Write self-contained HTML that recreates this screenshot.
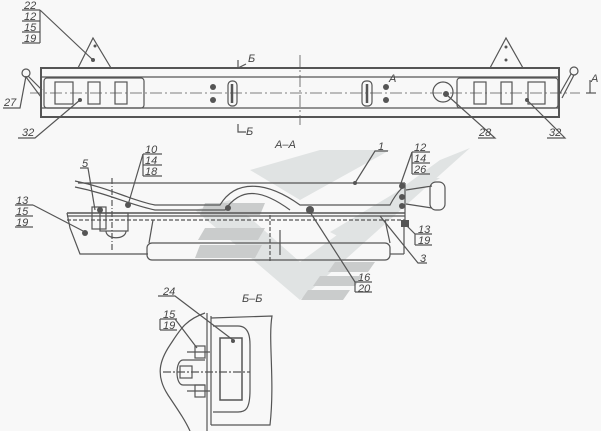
<!DOCTYPE html>
<html><head><meta charset="utf-8"><style>
html,body{margin:0;padding:0;background:#f8f8f8}
svg{display:block}
text{font-family:"Liberation Sans",sans-serif;font-style:italic;font-size:11px;fill:#444}
</style></head><body>
<svg width="601" height="431" viewBox="0 0 601 431" xmlns="http://www.w3.org/2000/svg">
<rect width="601" height="431" fill="#f8f8f8"/>
<g fill="#e0e3e3">
<polygon points="195,210 230,200 300,262 440,160 470,148 300,300"/>
<polygon points="250,170 320,150 390,150 300,200"/>
<polygon points="330,232 420,178 440,178 345,240"/>
</g>
<g fill="#cacccc">
<polygon points="205,203 265,203 260,215 200,215"/>
<polygon points="205,228 265,228 258,240 198,240"/>
<polygon points="200,245 262,245 255,258 195,258"/>
<polygon points="335,262 375,262 368,272 328,272"/>
<polygon points="320,276 362,276 355,286 313,286"/>
<polygon points="308,290 350,290 343,300 301,300"/>
</g>
<g stroke="#555" fill="none" stroke-width="1.2">
<rect x="41" y="68" width="518" height="49" stroke-width="2"/>
<line x1="41" y1="77" x2="559" y2="77"/>
<line x1="41" y1="108" x2="559" y2="108"/>
<line x1="30" y1="93" x2="580" y2="93" stroke-dasharray="12,3,2,3" stroke-width="0.8"/>
<line x1="300" y1="55" x2="300" y2="125" stroke-dasharray="12,3,2,3" stroke-width="0.8"/>
<rect x="44" y="78" width="100" height="30" rx="3"/>
<rect x="457" y="78" width="101" height="30" rx="3"/>
<rect x="55" y="82" width="18" height="22"/><rect x="88" y="82" width="12" height="22"/><rect x="115" y="82" width="12" height="22"/>
<rect x="474" y="82" width="12" height="22"/><rect x="501" y="82" width="11" height="22"/><rect x="528" y="82" width="17" height="22"/>
<rect x="228" y="81" width="9" height="25" rx="4"/><rect x="362" y="81" width="10" height="25" rx="4"/>
<line x1="232" y1="84" x2="232" y2="103" stroke-width="2.5"/><line x1="367" y1="84" x2="367" y2="103" stroke-width="2.5"/>
<circle cx="443" cy="92" r="10"/>
<polygon points="78,68 93,38 111,68"/><polygon points="490,68 506,38 523,68"/>
<circle cx="26" cy="73" r="4"/><line x1="28" y1="76" x2="42" y2="90"/><line x1="26" y1="77" x2="41" y2="97"/>
<circle cx="574" cy="71" r="4"/><line x1="571" y1="74" x2="559" y2="95"/><line x1="574" y1="75" x2="562" y2="98"/>
<polyline points="238,60 238,68 246,64"/><polyline points="238,124 238,132 246,132"/>
<line x1="586" y1="93" x2="596" y2="93"/><line x1="590" y1="80" x2="590" y2="93"/>
<line x1="22" y1="10" x2="40" y2="10"/><line x1="22" y1="21" x2="40" y2="21"/><line x1="22" y1="32" x2="40" y2="32"/><line x1="22" y1="43" x2="40" y2="43"/><line x1="40" y1="10" x2="40" y2="43"/>
<line x1="40" y1="10" x2="93" y2="60"/>
<polyline points="3,108 20,108 26,76"/>
<polyline points="18,138 35,138 80,100"/>
<polyline points="478,138 495,138 448,96"/>
<polyline points="547,138 565,138 527,100"/>
<line x1="78" y1="183" x2="405" y2="183"/>
<line x1="67" y1="213" x2="405" y2="213" stroke-width="1.6"/>
<line x1="67" y1="216" x2="405" y2="216"/>
<line x1="67" y1="220" x2="405" y2="220" stroke-dasharray="4,2"/>
<polyline points="67,213 70,228 80,254 148,254"/>
<line x1="405" y1="183" x2="405" y2="220"/>
<rect x="147" y="243" width="243" height="17" rx="5"/>
<line x1="153" y1="220" x2="149" y2="243"/><line x1="385" y1="220" x2="390" y2="243"/>
<line x1="390" y1="254" x2="404" y2="254"/><line x1="404" y1="220" x2="404" y2="254"/>
<path d="M75,181 C110,188 130,200 155,205 L220,205 C235,180 265,180 300,205 L390,205 C395,195 400,190 402,188"/>
<path d="M75,187 C110,194 130,205 155,210 L225,210 C240,188 260,188 290,210"/>
<path d="M406,190 L432,186 M406,204 L432,208"/>
<rect x="430" y="182" width="15" height="28" rx="6"/>
<rect x="92" y="207" width="14" height="22"/>
<rect x="100" y="213" width="28" height="18"/>
<path d="M106,231 C106,240 126,240 126,231"/>
<line x1="112" y1="178" x2="112" y2="250" stroke-dasharray="6,2,1,2"/>
<line x1="270" y1="215" x2="270" y2="262" stroke-dasharray="4,2"/>
<line x1="280" y1="230" x2="280" y2="255"/>
<polyline points="80,168 88,168 95,210"/>
<line x1="143" y1="154" x2="162" y2="154"/><line x1="143" y1="165" x2="162" y2="165"/><line x1="143" y1="176" x2="162" y2="176"/><line x1="143" y1="154" x2="143" y2="176"/>
<line x1="143" y1="154" x2="128" y2="205"/>
<line x1="15" y1="205" x2="33" y2="205"/><line x1="15" y1="216" x2="33" y2="216"/><line x1="15" y1="227" x2="33" y2="227"/>
<line x1="33" y1="205" x2="85" y2="232"/>
<polyline points="388,151 375,151 355,183"/>
<line x1="412" y1="152" x2="430" y2="152"/><line x1="412" y1="163" x2="430" y2="163"/><line x1="412" y1="174" x2="430" y2="174"/><line x1="412" y1="152" x2="412" y2="174"/>
<line x1="412" y1="152" x2="400" y2="186"/>
<line x1="415" y1="234" x2="432" y2="234"/><line x1="415" y1="245" x2="432" y2="245"/><line x1="415" y1="234" x2="415" y2="245"/>
<line x1="415" y1="234" x2="405" y2="224"/>
<polyline points="427,263 418,263 380,216"/>
<line x1="355" y1="282" x2="372" y2="282"/><line x1="355" y1="292" x2="372" y2="292"/><line x1="355" y1="282" x2="355" y2="292"/>
<line x1="355" y1="282" x2="310" y2="212"/>
<line x1="207" y1="313" x2="207" y2="431"/><line x1="211" y1="316" x2="211" y2="425"/>
<path d="M211,318 L272,316 C268,340 275,380 270,425 L211,425"/>
<path d="M213,326 L238,326 C250,326 250,340 250,345 L250,390 C250,410 245,412 238,412 L213,412"/>
<rect x="220" y="338" width="22" height="62" stroke-width="1.5"/>
<path d="M205,313 C185,320 180,330 170,345 C160,360 155,375 168,395 C178,410 185,420 190,431"/>
<line x1="163" y1="372" x2="250" y2="372" stroke-dasharray="8,2,2,2"/>
<path d="M205,360 L183,360 C175,360 175,385 183,385 L205,385"/>
<rect x="180" y="366" width="12" height="12"/>
<rect x="195" y="346" width="10" height="12"/><rect x="195" y="385" width="10" height="12"/>
<line x1="187" y1="352" x2="210" y2="352"/><line x1="187" y1="391" x2="210" y2="391"/>
<polyline points="158,296 175,296 233,340"/>
<line x1="160" y1="319" x2="177" y2="319"/><line x1="160" y1="330" x2="177" y2="330"/><line x1="160" y1="319" x2="160" y2="330"/>
<line x1="175" y1="319" x2="197" y2="348"/>
</g>
<g fill="#555">
<circle cx="93" cy="60" r="2"/><circle cx="95" cy="46" r="1.5"/><circle cx="506" cy="60" r="1.5"/><circle cx="506" cy="47" r="1.5"/>
<circle cx="80" cy="100" r="2"/><circle cx="527" cy="100" r="2"/><circle cx="446" cy="94" r="3"/>
<circle cx="213" cy="87" r="3"/><circle cx="213" cy="100" r="3"/><circle cx="386" cy="87" r="3"/><circle cx="386" cy="100" r="3"/>
<circle cx="355" cy="183" r="2"/><circle cx="85" cy="233" r="3"/><circle cx="310" cy="210" r="4"/>
<circle cx="100" cy="210" r="3"/><circle cx="128" cy="205" r="3"/><circle cx="228" cy="208" r="3"/>
<circle cx="402" cy="186" r="3"/><circle cx="402" cy="197" r="3"/><circle cx="402" cy="206" r="3"/>
<rect x="401" y="220" width="8" height="7"/><circle cx="233" cy="341" r="2"/>
</g>
<g>
<text x="24" y="9">22</text><text x="24" y="20">12</text><text x="24" y="31">15</text><text x="24" y="42">19</text>
<text x="4" y="106">27</text><text x="22" y="136">32</text><text x="479" y="136">28</text><text x="549" y="136">32</text>
<text x="248" y="62">Б</text><text x="246" y="135">Б</text><text x="591" y="82">А</text><text x="389" y="82">А</text>
<text x="275" y="148" font-size="13">А–А</text>
<text x="82" y="167">5</text>
<text x="145" y="153">10</text><text x="145" y="164">14</text><text x="145" y="175">18</text>
<text x="16" y="204">13</text><text x="16" y="215">15</text><text x="16" y="226">19</text>
<text x="378" y="150">1</text>
<text x="414" y="151">12</text><text x="414" y="162">14</text><text x="414" y="173">26</text>
<text x="418" y="233">13</text><text x="418" y="244">19</text>
<text x="420" y="262">3</text>
<text x="358" y="281">16</text><text x="358" y="292">20</text>
<text x="242" y="302" font-size="13">Б–Б</text>
<text x="163" y="295">24</text><text x="163" y="318">15</text><text x="163" y="329">19</text>
</g>
</svg>
</body></html>
